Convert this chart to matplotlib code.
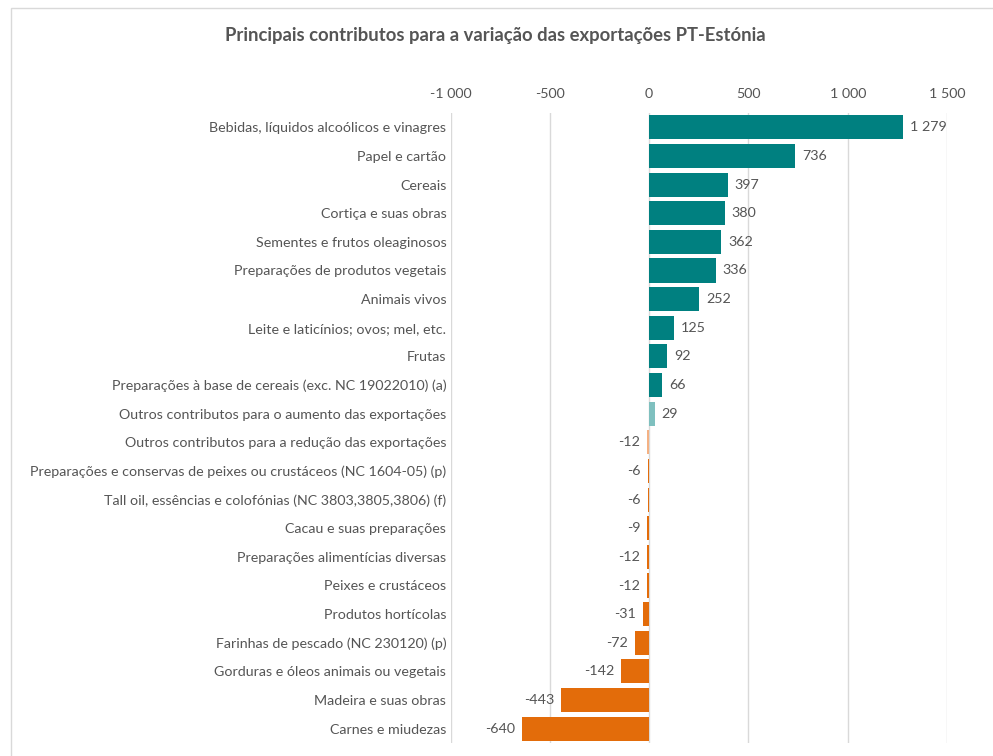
import matplotlib.pyplot as plt
from matplotlib.patches import Rectangle
from matplotlib.ticker import FuncFormatter

plt.rcParams['font.family'] = ['Lato', 'DejaVu Sans']

CATEGORIES = [
    'Bebidas, líquidos alcoólicos e vinagres',
    'Papel e cartão',
    'Cereais',
    'Cortiça e suas obras',
    'Sementes e frutos oleaginosos',
    'Preparações de produtos vegetais',
    'Animais vivos',
    'Leite e laticínios; ovos; mel, etc.',
    'Frutas',
    'Preparações à base de cereais (exc. NC 19022010) (a)',
    'Outros contributos para o aumento das exportações',
    'Outros contributos para a redução das exportações',
    'Preparações e conservas de peixes ou crustáceos (NC 1604-05) (p)',
    'Tall oil, essências e colofónias (NC 3803,3805,3806) (f)',
    'Cacau e suas preparações',
    'Preparações alimentícias diversas',
    'Peixes e crustáceos',
    'Produtos hortícolas',
    'Farinhas de pescado (NC 230120) (p)',
    'Gorduras e óleos animais ou vegetais',
    'Madeira e suas obras',
    'Carnes e miudezas',
]
VALUES = [1279, 736, 397, 380, 362, 336, 252, 125, 92, 66, 29,
          -12, -6, -6, -9, -12, -12, -31, -72, -142, -443, -640]
OTHERS_UP = 'Outros contributos para o aumento das exportações'
OTHERS_DOWN = 'Outros contributos para a redução das exportações'
XTICKS = [-1000, -500, 0, 500, 1000, 1500]

TEAL = '#008080'
TEAL_LIGHT = '#7fc0bf'
ORANGE = '#e36c0a'
ORANGE_LIGHT = '#f4b183'
TEXT = '#555555'


def fmt(v, pos=None):
    s = f'{abs(int(v)):,}'.replace(',', ' ')
    return ('-' if v < 0 else '') + s


colors = []
for c, v in zip(CATEGORIES, VALUES):
    if c == OTHERS_UP:
        colors.append(TEAL_LIGHT)
    elif c == OTHERS_DOWN:
        colors.append(ORANGE_LIGHT)
    else:
        colors.append(TEAL if v >= 0 else ORANGE)

fig = plt.figure(figsize=(9.93, 7.56), dpi=100)
fig.patches.append(Rectangle((11 / 993, -0.01), 1.0, 1 - 8 / 756 + 0.01,
                             transform=fig.transFigure, fill=False,
                             edgecolor='#d9d9d9', linewidth=1))
ax = fig.add_axes([450.5 / 993, 1 - 743 / 756, (947 - 450.5) / 993, (743 - 113) / 756])

ypos = list(range(len(CATEGORIES)))
ax.barh(ypos, VALUES, height=0.84, color=colors, zorder=3)
ax.set_ylim(len(CATEGORIES) - 0.5, -0.5)
ax.set_xlim(-1000, 1500)
ax.set_yticks(ypos)
ax.set_yticklabels(CATEGORIES, fontsize=10.3, color=TEXT)
ax.set_xticks(XTICKS)
ax.xaxis.set_major_formatter(FuncFormatter(fmt))
ax.xaxis.tick_top()
ax.tick_params(axis='x', length=0, pad=9, labelsize=10.3, labelcolor=TEXT)
ax.tick_params(axis='y', length=0, pad=3)
ax.grid(axis='x', color='#d9d9d9', linewidth=1, zorder=0)
for s in ax.spines.values():
    s.set_visible(False)

for y, v in zip(ypos, VALUES):
    ax.annotate(fmt(v), (v, y), xytext=(5 if v >= 0 else -5, 0),
                textcoords='offset points', va='center',
                ha='left' if v >= 0 else 'right', fontsize=10.3, color=TEXT)

fig.text(495 / 993, 1 - 35 / 756, 'Principais contributos para a variação das exportações PT-Estónia',
         ha='center', va='center', fontsize=13.3, fontweight='bold', color=TEXT)

fig.savefig('out.png', dpi=100)
